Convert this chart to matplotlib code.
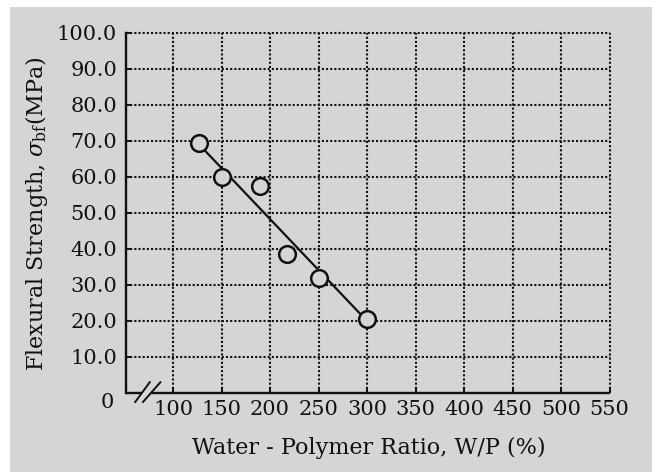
import matplotlib
matplotlib.use('Agg')
import matplotlib.pyplot as plt
from matplotlib.patches import Rectangle

# ---- data ----
wp_ratio = [127, 150, 190, 217, 250, 300]
flexural_strength = [69.5, 60.0, 57.5, 38.5, 32.0, 20.5]
fit_wp = [127, 300]
fit_strength = [69.0, 20.0]
x_ticks = [100, 150, 200, 250, 300, 350, 400, 450, 500, 550]
x_tick_labels = ['100', '150', '200', '250', '300', '350', '400', '450', '500', '550']
y_ticks = [10, 20, 30, 40, 50, 60, 70, 80, 90, 100]
y_tick_labels = ['10.0', '20.0', '30.0', '40.0', '50.0', '60.0', '70.0', '80.0', '90.0', '100.0']

BG = '#d4d5d7'
FS = 15
LFS = 16

plt.rcParams['font.family'] = ['DejaVu Serif']
plt.rcParams['mathtext.fontset'] = 'dejavuserif'

W, H = 659, 472
fig = plt.figure(figsize=(W / 100, H / 100), dpi=100, facecolor='white')
fig.patches.append(Rectangle((10 / W, 0), 642 / W, 465 / H, transform=fig.transFigure,
                             facecolor=BG, edgecolor='none', zorder=-10))

ax = fig.add_axes([125.5 / W, 1 - 393 / H, 484 / W, 360 / H])
ax.set_facecolor('none')
ax.set_xlim(51, 550)
ax.set_ylim(0, 100)

ax.set_xticks(x_ticks)
ax.set_xticklabels(x_tick_labels)
ax.set_yticks(y_ticks)
ax.set_yticklabels(y_tick_labels)
ax.tick_params(axis='both', direction='in', length=4, width=1.4, labelsize=FS, colors='#111111')
ax.tick_params(axis='y', pad=6)
ax.tick_params(axis='x', pad=5)

ax.grid(True, color='#111111', linestyle=(0, (1, 1)), linewidth=1.5)
for gl in ax.get_xgridlines() + ax.get_ygridlines():
    gl.set_clip_on(False)
ax.set_axisbelow(True)

for s in ['top', 'right', 'bottom']:
    ax.spines[s].set_visible(False)
ax.spines['left'].set_linewidth(1.7)
ax.spines['left'].set_color('#111111')

# broken bottom axis with // mark
ax.plot([51, 67.8], [0, 0], color='#111111', lw=1.7, clip_on=False, solid_capstyle='butt', zorder=3)
ax.plot([77.2, 550], [0, 0], color='#111111', lw=1.7, clip_on=False, solid_capstyle='butt', zorder=3)
ax.plot([61, 76], [-2.5, 3], color='#111111', lw=1.4, clip_on=False, zorder=3)
ax.plot([69, 87], [-2.5, 3], color='#111111', lw=1.4, clip_on=False, zorder=3)

ax.annotate('0', xy=(0, 0), xycoords='axes fraction', xytext=(-12, -10),
            textcoords='offset pixels', ha='right', va='center', fontsize=FS, color='#111111')

# fitted line and data
ax.plot(fit_wp, fit_strength, color='#111111', lw=1.6, zorder=4)
ax.plot(wp_ratio, flexural_strength, linestyle='none', marker='o', markersize=12,
        markerfacecolor=BG, markeredgecolor='#111111', markeredgewidth=1.8, zorder=5)

fig.text(37 / W, 1 - 214 / H, r'Flexural Strength, $\sigma_{\rm bf}$(MPa)', rotation=90,
         ha='center', va='center', fontsize=LFS, color='#111111')
fig.text(369 / W, 1 - 448 / H, 'Water - Polymer Ratio, W/P (%)', ha='center', va='center',
         fontsize=LFS, color='#111111')

fig.savefig('out.png', dpi=100, facecolor=fig.get_facecolor())
